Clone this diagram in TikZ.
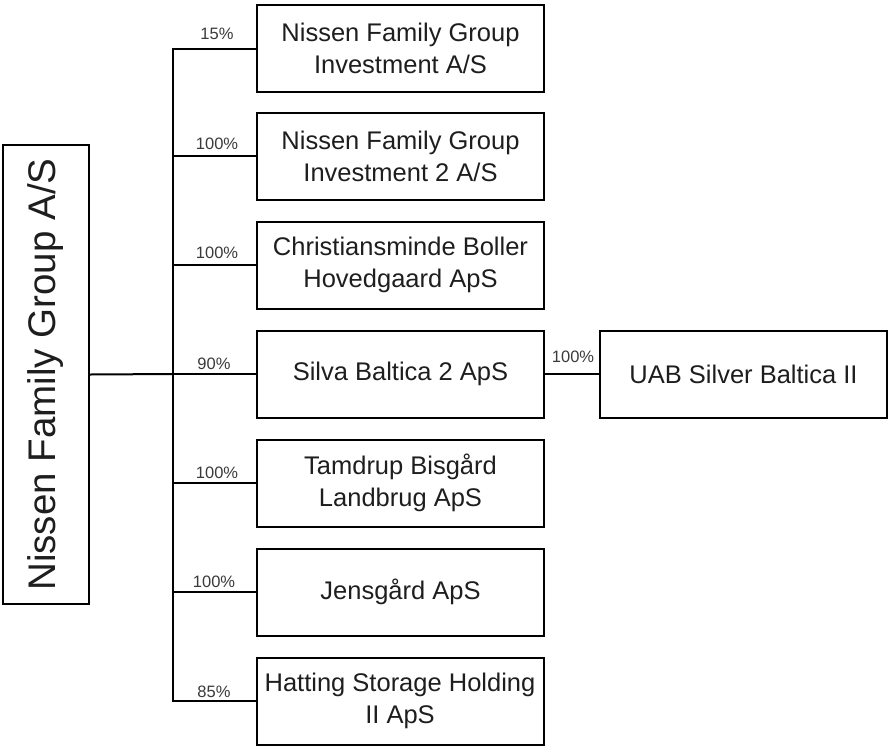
\documentclass[tikz,border=0pt]{standalone}
\usepackage{fontspec}
\setmainfont{Liberation Sans}
\definecolor{txt}{HTML}{1E1E1E}
\definecolor{lbl}{HTML}{3A3A3A}
\begin{document}
\begin{tikzpicture}[x=1pt,y=-1pt,
  ent/.style={draw=black,line width=2pt,minimum width=287pt,minimum height=87pt,inner sep=0pt,
    align=center,text=txt,font=\fontsize{25.5}{32}\selectfont},
  pct/.style={anchor=base,text=lbl,inner sep=0pt,font=\fontsize{16.5}{18}\selectfont},
  conn/.style={line width=2pt,draw=black}]
\useasboundingbox (0,0) rectangle (890,750);
\node[draw=black,line width=2pt,minimum width=459pt,minimum height=86pt,inner sep=0pt,rotate=90,
  text=txt,font=\fontsize{38.5}{44}\selectfont] (main) at (46,374.5) {Nissen Family Group A/S};
\node[ent] (b1) at (400.5,48.5) {Nissen Family Group\\Investment A/S};
\node[ent] (b2) at (400.5,156) {Nissen Family Group\\Investment 2 A/S};
\node[ent] (b3) at (400.5,265) {Christiansminde Boller\\Hovedgaard ApS};
\node[ent] (b4) at (400.5,374) {Silva Baltica 2 ApS};
\node[ent] (b5) at (400.5,483) {Tamdrup Bisgård\\Landbrug ApS};
\node[ent] (b6) at (400.5,592) {Jensgård ApS};
\node[ent] (b7) at (400,701) {Hatting Storage Holding\\II ApS};
\node[ent] (uab) at (743.5,374) {UAB Silver Baltica II};
\coordinate (bus) at (173,374);
\draw[conn] (main.south) -- (bus);
\draw[conn,line cap=rect] (b1.west) -| (bus) |- (b7.west);
\foreach \b in {b2,b3,b4,b5,b6} \draw[conn] (bus |- \b.west) -- (\b.west);
\draw[conn] (b4.east) -- (uab.west);
\node[pct] (p1) at (217,39) {15\%};
\node[pct] (p2) at (217,149) {100\%};
\node[pct] (p3) at (217,258) {100\%};
\node[pct] (p4) at (214,369) {90\%};
\node[pct] (p5) at (217,478) {100\%};
\node[pct] (p6) at (214,587) {100\%};
\node[pct] (p7) at (214,697) {85\%};
\node[pct] (p8) at (573,362) {100\%};
\end{tikzpicture}
\end{document}
